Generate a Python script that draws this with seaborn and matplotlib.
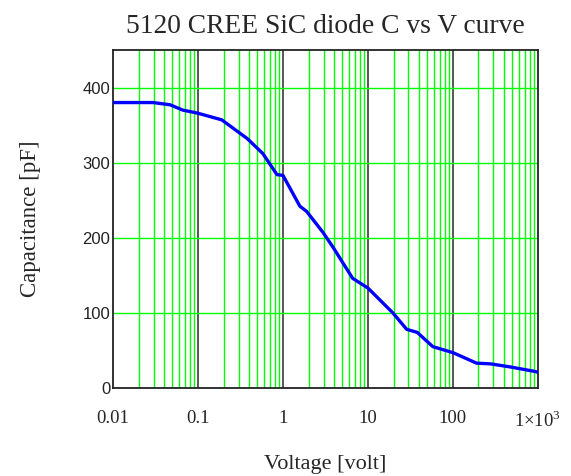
import matplotlib
matplotlib.use("Agg")
import matplotlib.pyplot as plt
import matplotlib.ticker as mticker
import seaborn as sns
import pandas as pd

voltage = [0.01, 0.0296, 0.047, 0.066, 0.098, 0.19, 0.38, 0.58, 0.85, 1.0,
           1.58, 1.9, 2.96, 3.9, 6.6, 10, 19.6, 28.6, 38, 58, 100, 190, 280,
           470, 920, 1000]
capacitance = [380, 380, 377, 370, 366, 357, 332, 312, 284, 283,
               242, 235, 207, 187, 146, 133, 100, 78, 74, 55, 47, 33, 32,
               28, 22, 21]
xtick_vals = [0.01, 0.1, 1, 10, 100, 1000]
xtick_labels = ["0.01", "0.1", "1", "10", "100", "1×10$^3$"]
ytick_vals = [0, 100, 200, 300, 400]

df = pd.DataFrame({"V": voltage, "C": capacitance})

sns.set_style("white")
plt.rcParams["font.family"] = ["Liberation Serif", "DejaVu Serif"]
plt.rcParams["mathtext.fontset"] = "custom"
plt.rcParams["mathtext.rm"] = "Liberation Serif"

fig = plt.figure(figsize=(5.71, 4.76), dpi=100)
ax = fig.add_axes([0.198, 0.185, 0.744, 0.710])

ax.set_xscale("log")
ax.set_xlim(0.01, 1000)
ax.set_ylim(0, 450)

# grid lines
for dec in [0.01, 0.1, 1, 10, 100]:
    for k in range(2, 10):
        ax.axvline(dec * k, color="#00ff00", lw=1.0, zorder=1)
for d in [0.1, 1, 10, 100]:
    ax.axvline(d, color="#3a3a3a", lw=1.2, zorder=1)
for yv in [100, 200, 300, 400]:
    ax.axhline(yv, color="#00ff00", lw=1.0, zorder=1)

sns.lineplot(data=df, x="V", y="C", ax=ax, color="#0000ff", lw=2.4,
             zorder=3, legend=False)

ax.set_xticks(xtick_vals)
ax.set_xticklabels(xtick_labels)
ax.xaxis.set_minor_locator(mticker.NullLocator())
ax.set_yticks(ytick_vals)
ax.set_yticklabels([str(v) for v in ytick_vals],
                   family=["Liberation Sans", "DejaVu Sans"],
                   fontsize=12, color="#222222")
ax.tick_params(axis="x", length=0, pad=16, labelsize=13.5)
ax.tick_params(axis="y", length=0, pad=2)

for s in ax.spines.values():
    s.set_color("#222222")
    s.set_linewidth(1.3)

ax.set_title("5120 CREE SiC diode C vs V curve", fontsize=19.8, pad=12)
ax.set_xlabel("Voltage [volt]", fontsize=16, labelpad=17)
ax.set_ylabel("Capacitance [pF]", fontsize=16.5, labelpad=30)

fig.savefig("out.png", dpi=100)
